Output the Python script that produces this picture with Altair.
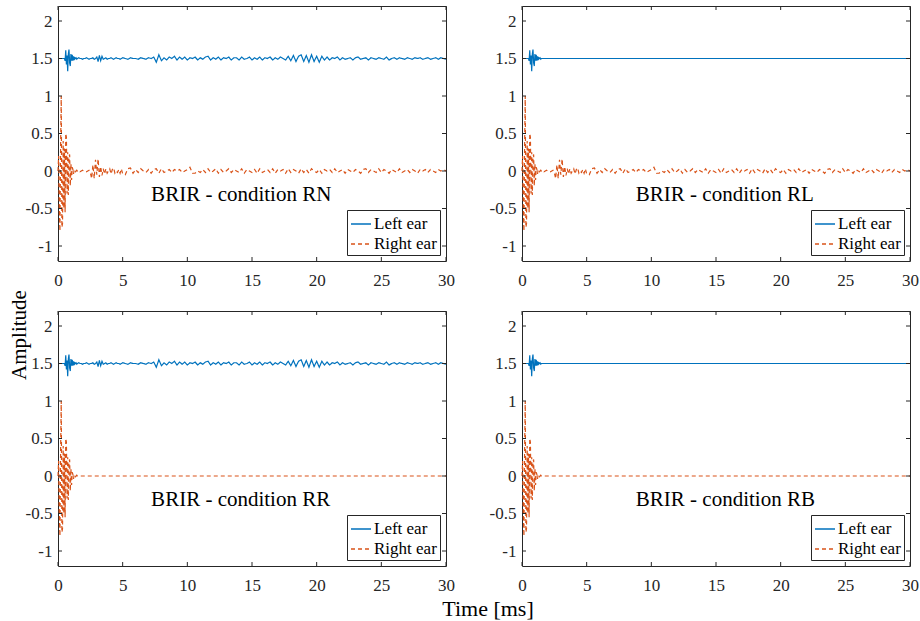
import altair as alt
import numpy as np
import pandas as pd

FONT = "Liberation Serif"
AX = "#262626"
BLUE = "#0072BD"
ORANGE = "#D95319"
W, H = 388, 255

# ---------------- data ----------------
conditions = ["RN", "RL", "RR", "RB"]
panel_labels = ["BRIR - condition RN", "BRIR - condition RL",
                "BRIR - condition RR", "BRIR - condition RB"]
left_reverb = [True, False, True, False]
right_reverb = [True, True, False, False]
ears = ["Left ear", "Right ear"]
x_ticks = [0, 5, 10, 15, 20, 25, 30]
y_ticks = [-1, -0.5, 0, 0.5, 1, 1.5, 2]
left_offset = 1.5

# sampling grids (ms)
t_early = np.round(np.arange(31) * 0.05, 2)          # 0.00 .. 1.50
t_mid = np.round(1.6 + np.arange(35) * 0.1, 2)        # 1.6 .. 5.0
t_late = np.round(5.2 + np.arange(125) * 0.2, 2)      # 5.2 .. 30.0

left_early = [0.0, 0.0, 0.0, 0.0, 0.0, 0.0, 0.0, 0.0, 0.0, 0.0,
              0.0, -0.03, 0.11, -0.08, 0.04, -0.17, 0.06, 0.12, -0.06, -0.10,
              0.06, -0.03, 0.05, -0.03, 0.03, -0.02, 0.01, 0.0, 0.01, -0.01,
              0.0]
right_early = [0.0, 0.2, -0.5, -0.8, 0.3, 1.0, -0.75, -0.7, 0.4, -0.5,
               0.3, -0.55, 0.5, 0.45, -0.3, 0.25, -0.32, 0.2, 0.22, -0.2,
               0.1, -0.12, 0.05, 0.02, -0.04, 0.02, 0.01, -0.01, 0.0, 0.01,
               0.0]
left_mid = [0.01, 0.0, 0.0, -0.01, 0.0, 0.0, 0.01, 0.0, -0.01, 0.0,
            0.0, 0.01, -0.01, 0.0, 0.02, -0.04, 0.04, -0.03, 0.03, -0.01,
            0.0, 0.01, -0.01, 0.0, 0.0, 0.01, 0.0, -0.01, 0.0, 0.01,
            0.0, 0.0, -0.01, 0.0, 0.01]
right_mid = [0.01, -0.01, 0.0, 0.01, 0.0, 0.0, -0.01, 0.0, 0.01, -0.02,
             -0.1, 0.08, -0.1, 0.15, -0.05, 0.16, -0.08, 0.06, -0.06, 0.03,
             -0.04, 0.03, -0.03, 0.0, 0.03, -0.04, 0.02, 0.04, -0.03, 0.0,
             -0.02, 0.02, -0.03, 0.03, -0.04]
left_late = [0.0, -0.01, 0.01, 0.0, 0.0, -0.01, 0.01, 0.0, -0.01, 0.01,
             0.0, 0.02, -0.05, 0.05, -0.03, 0.01, -0.02, 0.02, 0.0, 0.03,
             -0.02, 0.02, -0.01, 0.02, -0.02, 0.01, 0.0, 0.02, -0.02, 0.01,
             -0.01, 0.02, 0.03, -0.02, 0.01, -0.01, 0.02, -0.02, 0.01, 0.0,
             0.02, -0.02, 0.01, 0.01, -0.02, 0.02, -0.01, 0.0, 0.02, -0.02,
             0.01, -0.01, 0.02, -0.02, 0.01, 0.0, 0.02, -0.02, 0.01, -0.01,
             0.02, 0.0, -0.02, 0.03, -0.03, 0.04, -0.04, 0.03, 0.05, -0.04,
             0.04, -0.05, 0.05, -0.04, 0.03, -0.05, 0.03, -0.02, 0.02, -0.02,
             0.01, 0.0, 0.02, -0.02, 0.01, -0.01, 0.0, 0.01, -0.02, 0.01,
             0.02, -0.01, 0.0, 0.01, -0.02, 0.01, 0.0, -0.01, 0.01, 0.0,
             -0.01, 0.02, -0.02, 0.0, 0.01, -0.01, 0.01, 0.0, -0.01, 0.01,
             0.0, -0.01, 0.01, 0.0, 0.01, -0.01, 0.0, 0.01, -0.01, 0.0,
             0.01, -0.01, 0.01, 0.0, -0.01]
right_late = [-0.05, 0.03, 0.04, -0.03, 0.02, -0.02, 0.03, 0.0, -0.02, 0.02,
              -0.03, 0.02, 0.03, -0.03, 0.03, -0.02, 0.0, 0.02, -0.02, 0.02,
              0.0, 0.02, -0.02, 0.0, 0.02, 0.05, -0.03, -0.03, 0.0, -0.02,
              0.02, -0.02, 0.03, -0.02, 0.0, 0.03, -0.03, 0.02, -0.02, 0.0,
              0.03, -0.02, 0.02, 0.0, -0.02, 0.03, -0.03, 0.02, 0.0, -0.02,
              0.02, -0.03, 0.03, -0.02, 0.0, 0.02, -0.02, 0.03, -0.03, 0.02,
              0.0, 0.02, -0.03, 0.03, -0.02, 0.02, 0.0, -0.03, 0.03, -0.02,
              0.02, -0.03, 0.03, 0.0, -0.02, 0.02, -0.03, 0.02, 0.0, 0.02,
              -0.02, 0.03, -0.02, 0.0, 0.02, -0.03, 0.02, 0.0, -0.02, 0.02,
              0.0, -0.03, 0.02, 0.03, -0.02, 0.02, 0.0, -0.02, 0.03, -0.02,
              0.02, 0.0, -0.03, 0.02, 0.0, -0.02, 0.03, -0.02, 0.0, 0.02,
              -0.02, 0.02, 0.0, -0.03, 0.02, 0.0, 0.02, -0.02, 0.02, 0.0,
              -0.02, 0.02, 0.0, 0.02, 0.0]

assert len(left_early) == len(right_early) == len(t_early)
assert len(left_mid) == len(right_mid) == len(t_mid)
assert len(left_late) == len(right_late) == len(t_late)

# annotation placement (data coords)
label_x = [7.2, 8.8, 7.2, 8.8]
label_y = -0.32


def build_series(early, mid, late, reverb):
    if reverb:
        t = list(t_early) + list(t_mid) + list(t_late)
        v = early + mid + late
    else:
        t = list(t_early) + [30.0]
        v = early + [0.0]
    return t, v


x_enc = alt.X("t:Q", scale=alt.Scale(domain=[0, 30], nice=False, zero=False),
              axis=alt.Axis(values=x_ticks, ticks=False, domain=False, grid=False,
                            title=None, labelPadding=11, labelFlush=False,
                            labelFont=FONT, labelFontSize=17, labelColor=AX))
y_enc = alt.Y("v:Q", scale=alt.Scale(domain=[-1.2, 2.2], nice=False, zero=False),
              axis=alt.Axis(values=y_ticks, ticks=False, domain=False, grid=False,
                            title=None, labelPadding=6, labelExpr="'' + datum.value",
                            labelFont=FONT, labelFontSize=17, labelColor=AX))

legend = alt.Legend(title=None, orient="bottom-right", offset=6, padding=3,
                    strokeColor=AX, fillColor="white", cornerRadius=0,
                    symbolType="stroke", symbolSize=400, symbolStrokeWidth=1.3,
                    labelFont=FONT, labelFontSize=17, labelColor="black",
                    labelOffset=2, rowPadding=1, labelLimit=200)


def make_panel(i):
    lt, lv = build_series(left_early, left_mid, left_late, left_reverb[i])
    rt, rv = build_series(right_early, right_mid, right_late, right_reverb[i])
    df = pd.concat([
        pd.DataFrame({"t": lt, "v": [x + left_offset for x in lv], "ear": ears[0]}),
        pd.DataFrame({"t": rt, "v": rv, "ear": ears[1]}),
    ], ignore_index=True)

    lines = alt.Chart(df).mark_line(strokeWidth=1.2).encode(
        x=x_enc, y=y_enc,
        color=alt.Color("ear:N", scale=alt.Scale(domain=ears, range=[BLUE, ORANGE]),
                        legend=legend),
        strokeDash=alt.StrokeDash("ear:N", scale=alt.Scale(domain=ears, range=[[1, 0], [4, 3]]),
                                  legend=legend),
    )

    xt = pd.DataFrame({"t": x_ticks})
    yt = pd.DataFrame({"v": y_ticks})
    tick_style = dict(color=AX, strokeWidth=1)
    bottom = alt.Chart(xt).mark_rule(**tick_style).encode(x=x_enc, y=alt.value(H), y2=alt.value(H - 4))
    top = alt.Chart(xt).mark_rule(**tick_style).encode(x=x_enc, y=alt.value(0), y2=alt.value(4))
    left = alt.Chart(yt).mark_rule(**tick_style).encode(y=y_enc, x=alt.value(0), x2=alt.value(4))
    right = alt.Chart(yt).mark_rule(**tick_style).encode(y=y_enc, x=alt.value(W - 4), x2=alt.value(W))

    lab = alt.Chart(pd.DataFrame({"t": [label_x[i]], "v": [label_y], "s": [panel_labels[i]]})).mark_text(
        font=FONT, fontSize=21, align="left", baseline="middle", color="black"
    ).encode(x=x_enc, y=y_enc, text="s:N")

    layers = [lines, bottom, top, left, right, lab]

    if i == 0:
        anchor = alt.Chart(pd.DataFrame({"a": [0]})).mark_rule(opacity=0, strokeWidth=1).encode(
            x=alt.value(-57.5), y=alt.value(-5.5), y2=alt.value(-5))
        layers.append(anchor)
    if i == 3:
        anchor = alt.Chart(pd.DataFrame({"a": [0]})).mark_rule(opacity=0, strokeWidth=1).encode(
            x=alt.value(W + 9.5), y=alt.value(H + 54), y2=alt.value(H + 54.5))
        layers.append(anchor)
    if i == 2:
        xtitle = alt.Chart(pd.DataFrame({"s": ["Time [ms]"]})).mark_text(
            font=FONT, fontSize=22, align="center", baseline="middle", color="black"
        ).encode(text="s:N", x=alt.value(430), y=alt.value(298))
        ytitle = alt.Chart(pd.DataFrame({"s": ["Amplitude"]})).mark_text(
            font=FONT, fontSize=21, align="center", baseline="middle", color="black", angle=270
        ).encode(text="s:N", x=alt.value(-38), y=alt.value(24))
        layers += [xtitle, ytitle]

    return alt.layer(*layers).properties(width=W, height=H)


panels = [make_panel(i) for i in range(4)]

chart = alt.concat(*panels, columns=2, spacing={"row": 50, "column": 76}, bounds="flush").resolve_legend(
    color="independent", strokeDash="independent"
).properties(
    padding=0, background="white"
).configure_view(
    stroke=AX, strokeWidth=1
).configure_axis(
    labelFont=FONT, labelFontSize=17, labelColor=AX
).configure_legend(
    labelFont=FONT, labelFontSize=17
)

chart.save("out.html", embed_options={"renderer": "svg", "actions": False})
